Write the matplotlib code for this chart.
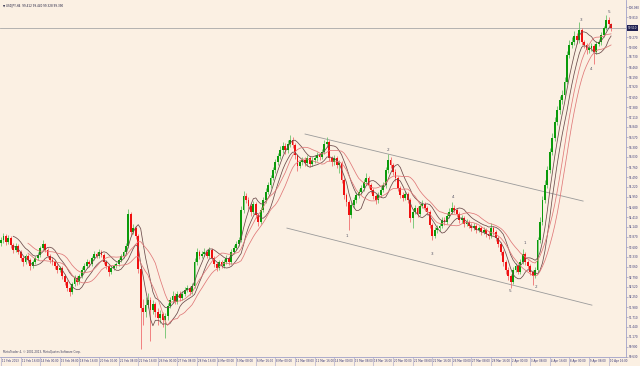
import matplotlib
matplotlib.use("Agg")
import matplotlib.pyplot as plt
import numpy as np
import pandas as pd

# ---------------- data (USDJPY H4) ----------------
closes = [93.79,93.90,93.74,93.84,93.65,93.52,93.63,93.47,93.30,93.20,
          93.36,93.25,93.09,93.20,93.30,93.38,93.57,93.68,93.52,93.36,
          93.25,93.20,93.09,92.98,93.03,92.82,92.65,92.49,92.38,92.60,
          92.76,92.65,92.82,92.98,93.09,93.20,93.14,93.30,93.41,93.36,
          93.47,93.38,93.20,93.09,92.93,93.03,93.09,93.14,93.25,93.36,
          93.47,93.63,94.49,94.00,94.11,93.90,93.00,91.95,91.85,92.04,
          92.17,91.90,92.06,91.85,91.68,91.79,91.63,91.74,92.01,92.17,
          92.28,92.12,92.33,92.22,92.33,92.44,92.49,92.38,92.55,93.20,
          93.47,93.36,93.41,93.47,93.36,93.52,93.30,93.14,93.03,93.20,
          93.09,93.20,93.30,93.20,93.47,93.57,93.68,93.79,94.60,94.98,
          94.87,94.71,94.55,94.76,94.47,94.28,94.60,94.87,95.09,95.27,
          95.46,95.68,95.89,96.06,96.22,96.33,96.22,96.38,96.49,96.35,
          96.08,95.79,95.89,95.95,95.87,96.00,95.84,95.95,96.00,96.08,
          96.03,96.17,96.38,96.44,96.00,95.89,96.00,95.81,95.87,95.41,
          95.00,94.82,94.46,94.73,94.87,95.00,95.09,95.19,95.35,95.46,
          95.27,95.14,94.98,94.87,95.00,95.14,95.27,95.68,95.95,95.81,
          95.63,95.46,95.19,95.00,94.92,95.03,94.87,94.38,94.55,94.65,
          94.49,94.71,94.76,94.65,94.55,94.19,93.90,94.06,94.11,94.17,
          94.33,94.28,94.44,94.55,94.65,94.60,94.49,94.33,94.38,94.22,
          94.28,94.17,94.11,94.17,94.06,94.11,94.00,94.06,93.95,93.90,
          94.11,94.00,93.84,93.68,93.47,93.20,92.98,92.82,92.65,92.98,
          93.09,92.93,93.20,93.41,93.20,93.09,92.93,92.82,92.98,93.79,
          94.28,94.87,95.27,95.68,96.17,96.54,96.98,97.30,97.57,97.70,
          98.06,98.78,99.05,99.13,99.30,99.19,99.46,99.13,99.05,98.92,
          98.97,99.03,98.86,99.08,99.13,99.32,99.50,99.73,99.62,99.50]

opens = [93.70,93.79,93.90,93.74,93.84,93.65,93.52,93.63,93.47,93.30,
         93.20,93.36,93.25,93.09,93.20,93.30,93.38,93.57,93.68,93.52,
         93.36,93.25,93.20,93.09,92.98,93.03,92.82,92.65,92.49,92.38,
         92.60,92.76,92.65,92.82,92.98,93.09,93.20,93.14,93.30,93.41,
         93.36,93.47,93.38,93.20,93.09,92.93,93.03,93.09,93.14,93.25,
         93.36,93.47,93.63,94.49,94.00,94.11,93.90,93.00,91.95,91.85,
         92.04,92.17,91.90,92.06,91.85,91.68,91.79,91.63,91.74,92.01,
         92.17,92.28,92.12,92.33,92.22,92.33,92.44,92.49,92.38,92.55,
         93.20,93.47,93.36,93.41,93.47,93.36,93.52,93.30,93.14,93.03,
         93.20,93.09,93.20,93.30,93.20,93.47,93.57,93.68,93.79,94.60,
         94.98,94.87,94.71,94.55,94.76,94.47,94.28,94.60,94.87,95.09,
         95.27,95.46,95.68,95.89,96.06,96.22,96.33,96.22,96.38,96.49,
         96.35,96.08,95.79,95.89,95.95,95.87,96.00,95.84,95.95,96.00,
         96.08,96.03,96.17,96.38,96.44,96.00,95.89,96.00,95.81,95.87,
         95.41,95.00,94.82,94.46,94.73,94.87,95.00,95.09,95.19,95.35,
         95.46,95.27,95.14,94.98,94.87,95.00,95.14,95.27,95.68,95.95,
         95.81,95.63,95.46,95.19,95.00,94.92,95.03,94.87,94.38,94.55,
         94.65,94.49,94.71,94.76,94.65,94.55,94.19,93.90,94.06,94.11,
         94.17,94.33,94.28,94.44,94.55,94.65,94.60,94.49,94.33,94.38,
         94.22,94.28,94.17,94.11,94.17,94.06,94.11,94.00,94.06,93.95,
         93.90,94.11,94.00,93.84,93.68,93.47,93.20,92.98,92.82,92.65,
         92.98,93.09,92.93,93.20,93.41,93.20,93.09,92.93,92.82,92.98,
         93.79,94.28,94.87,95.27,95.68,96.17,96.54,96.98,97.30,97.57,
         97.70,98.06,98.78,99.05,99.13,99.30,99.19,99.46,99.13,99.05,
         98.92,98.97,99.03,98.86,99.08,99.13,99.32,99.50,99.73,99.62]

highs = [93.88,93.98,93.96,93.92,93.89,93.70,93.70,93.68,93.52,93.36,
         93.42,93.41,93.30,93.26,93.37,93.46,93.64,93.78,93.72,93.56,
         93.40,93.32,93.26,93.14,93.10,93.08,92.87,92.70,92.55,92.66,
         92.84,92.82,92.88,93.05,93.16,93.27,93.26,93.36,93.50,93.47,
         93.55,93.52,93.43,93.24,93.14,93.09,93.15,93.20,93.31,93.42,
         93.53,93.70,94.62,94.55,94.22,94.18,93.95,93.08,92.20,92.25,
         92.35,92.25,92.18,92.12,91.95,91.90,91.85,91.82,92.10,92.26,
         92.40,92.35,92.42,92.40,92.40,92.52,92.58,92.56,92.62,93.30,
         93.58,93.52,93.50,93.56,93.52,93.60,93.58,93.36,93.20,93.26,
         93.25,93.27,93.38,93.36,93.55,93.66,93.77,93.88,94.70,95.10,
         95.06,94.95,94.78,94.84,94.82,94.52,94.68,94.95,95.18,95.36,
         95.55,95.76,95.98,96.15,96.32,96.44,96.40,96.48,96.62,96.56,
         96.40,96.12,95.96,96.04,96.02,96.08,96.06,96.04,96.08,96.16,
         96.14,96.25,96.48,96.58,96.50,96.06,96.08,96.05,95.95,95.92,
         95.46,95.06,94.88,94.82,94.95,95.08,95.16,95.27,95.44,95.60,
         95.52,95.33,95.20,95.04,95.08,95.22,95.36,95.76,96.10,96.02,
         95.88,95.70,95.52,95.26,95.08,95.10,95.08,94.92,94.62,94.74,
         94.70,94.78,94.86,94.82,94.70,94.60,94.24,94.14,94.20,94.26,
         94.42,94.40,94.52,94.64,94.82,94.74,94.66,94.54,94.46,94.44,
         94.36,94.34,94.24,94.24,94.22,94.18,94.16,94.14,94.12,94.02,
         94.26,94.18,94.06,93.90,93.74,93.52,93.26,93.05,92.88,93.06,
         93.16,93.14,93.28,93.55,93.46,93.26,93.14,92.98,93.06,93.88,
         94.40,94.98,95.40,95.80,96.28,96.68,97.10,97.42,97.68,97.85,
         98.18,98.90,99.18,99.26,99.42,99.38,99.67,99.52,99.20,99.12,
         99.06,99.12,99.08,99.16,99.22,99.40,99.58,99.86,99.80,99.66]

lows = [93.62,93.72,93.66,93.69,93.58,93.44,93.47,93.40,93.22,93.10,
        93.15,93.18,92.98,93.03,93.15,93.24,93.33,93.52,93.46,93.29,
        93.17,93.12,93.01,92.90,92.92,92.74,92.57,92.40,92.27,92.32,
        92.55,92.58,92.60,92.77,92.93,93.04,93.07,93.09,93.25,93.29,
        93.31,93.32,93.13,93.00,92.82,92.88,92.98,93.03,93.10,93.20,
        93.31,93.42,93.58,93.92,93.94,93.82,92.90,90.84,91.50,91.70,
        91.95,91.05,91.80,91.72,91.50,91.55,91.45,91.15,91.62,91.95,
        92.10,92.05,92.06,92.15,92.16,92.27,92.38,92.30,92.32,92.50,
        93.12,93.28,93.30,93.35,93.30,93.31,93.24,93.06,92.95,92.98,
        93.02,93.04,93.15,93.12,93.15,93.41,93.51,93.62,93.74,94.52,
        94.78,94.62,94.45,94.48,94.38,94.18,94.22,94.54,94.80,95.02,
        95.20,95.40,95.60,95.82,95.98,96.15,96.12,96.15,96.30,96.26,
        95.98,95.66,95.72,95.82,95.78,95.80,95.76,95.78,95.88,95.93,
        95.96,95.98,96.12,96.30,95.92,95.80,95.82,95.72,95.60,95.32,
        94.90,94.72,94.05,94.38,94.66,94.80,94.93,95.02,95.12,95.30,
        95.20,95.06,94.90,94.76,94.80,94.94,95.08,95.20,95.60,95.72,
        95.55,95.38,95.10,94.92,94.84,94.86,94.78,94.28,94.10,94.48,
        94.40,94.44,94.64,94.58,94.46,94.10,93.80,93.84,93.98,94.04,
        94.10,94.20,94.22,94.38,94.48,94.52,94.42,94.25,94.26,94.14,
        94.16,94.10,94.03,94.05,93.98,94.00,93.92,93.94,93.88,93.82,
        93.85,93.92,93.76,93.60,93.38,93.10,92.88,92.72,92.48,92.60,
        92.92,92.86,92.88,93.14,93.12,93.00,92.85,92.58,92.75,92.92,
        93.70,94.20,94.78,95.18,95.60,96.08,96.45,96.90,97.20,97.45,
        97.62,98.00,98.70,98.96,99.05,99.08,99.12,99.05,98.96,98.82,
        98.85,98.90,98.55,98.80,99.02,99.06,99.26,99.45,99.55,99.44]

date_labels = ["11 Feb 2013", "12 Feb 16:00", "14 Feb 00:00", "15 Feb 08:00",
               "18 Feb 16:00", "20 Feb 00:00", "21 Feb 08:00", "22 Feb 16:00",
               "26 Feb 00:00", "27 Feb 08:00", "28 Feb 16:00", "4 Mar 00:00",
               "5 Mar 08:00", "6 Mar 16:00", "8 Mar 00:00", "11 Mar 08:00",
               "12 Mar 16:00", "14 Mar 00:00", "15 Mar 08:00", "18 Mar 16:00",
               "20 Mar 00:00", "21 Mar 08:00", "22 Mar 16:00", "26 Mar 00:00",
               "27 Mar 08:00", "28 Mar 16:00", "2 Apr 00:00", "3 Apr 08:00",
               "4 Apr 16:00", "8 Apr 00:00", "9 Apr 08:00", "10 Apr 16:00"]
label_step = 8  # bars between date labels

price_ticks = [100.080 - 0.270 * k for k in range(36)]

# channel lines: (bar index, price)
channel_upper = [(124.1, 96.65), (237.6, 94.84)]
channel_lower = [(116.7, 94.11), (241.2, 92.03)]

# wave labels: (text, bar index, price)
wave_labels = [("1", 141.2, 93.91), ("2", 158.0, 96.21), ("3", 175.8, 93.41),
               ("4", 184.5, 94.96), ("5", 207.8, 92.40), ("1", 213.8, 93.70),
               ("2", 218.4, 92.52), ("3", 236.7, 99.73), ("4", 240.8, 98.41),
               ("5", 248.2, 99.95)]

current_price = 99.51
title_text = "\u25bc USDJPY,H4  99.412 99.440 99.328 99.390"
footer_text = "MetaTrader 4, \u00a9 2001-2013, MetaQuotes Software Corp."

# ---------------- drawing ----------------
bg = "#FBF0E3"
up_col = "#0A9A0A"
dn_col = "#F01010"
axis_txt = "#3A3A78"
fs = 2.0

W, H = 640, 366
fig = plt.figure(figsize=(W / 100, H / 100), dpi=100)
fig.patch.set_facecolor(bg)
ax = fig.add_axes([0.0, 1 - 357 / H, 626 / W, 357 / H])
ax.set_facecolor(bg)

o = np.array(opens); c = np.array(closes); h = np.array(highs); l = np.array(lows)
idx = np.arange(len(c))
up = c >= o
cols = np.where(up, up_col, dn_col)
wick_cols = np.where(up, "#6CC36C", "#F07070")

ax.vlines(idx, l, h, colors=wick_cols, linewidth=0.6, zorder=2)
ax.bar(idx, np.maximum(np.abs(c - o), 0.012), bottom=np.minimum(o, c),
       width=0.75, color=cols, linewidth=0, zorder=3)

# envelope indicator lines
hs = pd.Series(h); ls = pd.Series(l)
for per, col, lw in [(6, "#6B4A4A", 0.55), (12, "#E07878", 0.55)]:
    ax.plot(idx, hs.rolling(per).mean(), color=col, linewidth=lw, zorder=4)
    ax.plot(idx, ls.rolling(per).mean(), color=col, linewidth=lw, zorder=4)

# channel lines
for seg in (channel_upper, channel_lower):
    ax.plot([seg[0][0], seg[1][0]], [seg[0][1], seg[1][1]],
            color="#9A9A9A", linewidth=0.6, zorder=1)

for txt, xi, yp in wave_labels:
    ax.text(xi, yp, txt, fontsize=3.0, color="#555566", ha="center", va="center", zorder=5)

# current price line
ax.axhline(current_price, color="#A8A8A8", linewidth=0.6, zorder=1)

ax.set_xlim(-0.41, 255.1)
ax.set_ylim(90.63, 100.269)

# y axis on right
ax.yaxis.tick_right()
ax.set_yticks(price_ticks)
ax.set_yticklabels(["%.3f" % p for p in price_ticks])
ax.tick_params(axis="y", which="both", length=1.2, width=0.4, colors="#9090B0",
               labelcolor=axis_txt, labelsize=fs, pad=0.8)

ax.set_xticks([k * label_step for k in range(len(date_labels))])
ax.set_xticklabels([" " + d for d in date_labels], ha="left")
ax.tick_params(axis="x", length=8, width=0.4, colors="#A0A0C8",
               labelcolor=axis_txt, labelsize=fs, pad=-6.5)

for s in ["top", "left"]:
    ax.spines[s].set_visible(False)
for s in ["right", "bottom"]:
    ax.spines[s].set_color("#A0A0C8")
    ax.spines[s].set_linewidth(0.6)

# current price box on axis
ax.text(1.003, current_price, "%.3f" % current_price, transform=ax.get_yaxis_transform(),
        fontsize=fs, color="white", ha="left", va="center",
        bbox=dict(boxstyle="square,pad=0.3", fc="#202050", ec="none"), zorder=6,
        clip_on=False)

fig.text(3 / W, 1 - 6 / H, title_text, fontsize=fs, color="#202040", ha="left", va="center")
fig.text(3 / W, 1 - 352 / H, footer_text, fontsize=fs, color="#404060", ha="left", va="center")

fig.savefig("out.png", dpi=100, facecolor=bg)
